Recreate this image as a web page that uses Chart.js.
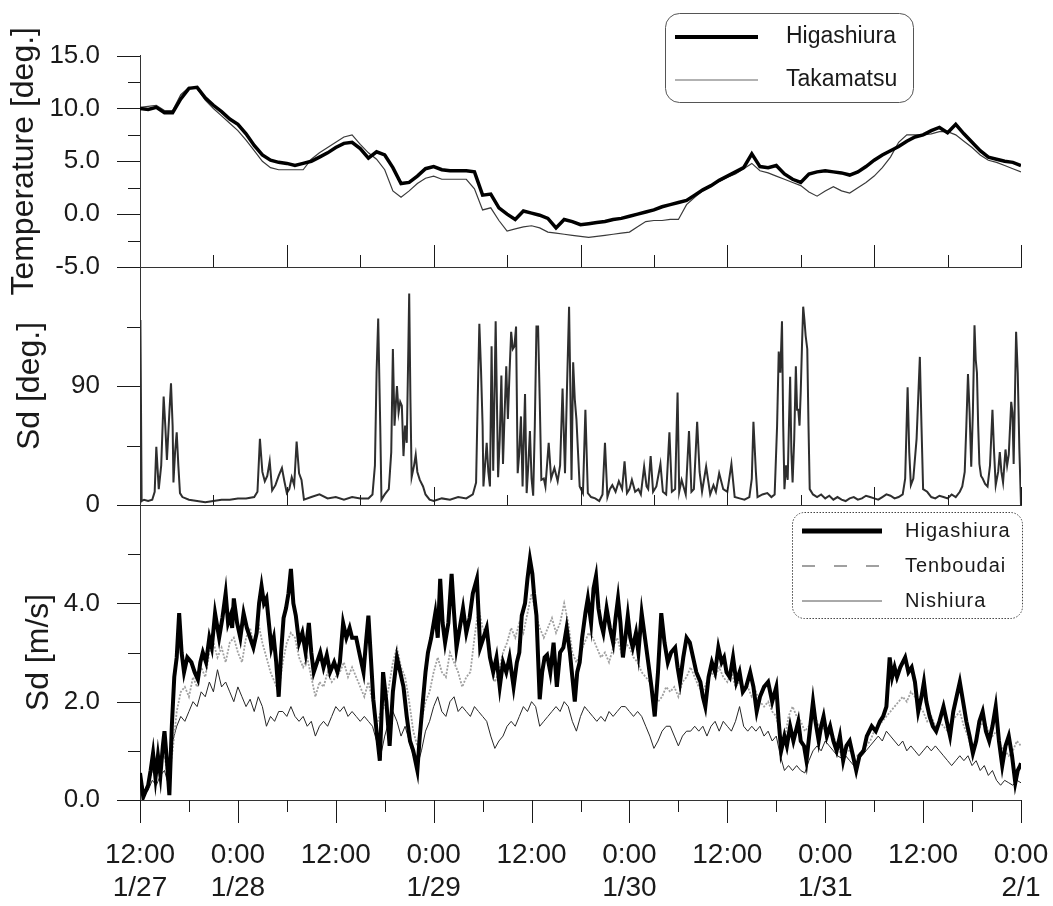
<!DOCTYPE html>
<html>
<head>
<meta charset="utf-8">
<script src="https://cdn.jsdelivr.net/npm/chart.js@4.4.1/dist/chart.umd.min.js"></script>
<style>
  body { margin: 0; background: #fff; }
  #wrap { position: relative; width: 1053px; height: 906px; }
  canvas { position: absolute; left: 0; top: 0; }
</style>
</head>
<body>
<div id="wrap">
  <canvas id="temp" width="1053" height="906"></canvas>
  <canvas id="dir" width="1053" height="906"></canvas>
  <canvas id="wind" width="1053" height="906"></canvas>
</div>
<script>
'use strict';

// hours since 12:00 1/27 (108 h = 0:00 2/1)

let hourGrid = [0,1,2,3,4,5,6,7,8,9,10,11,12,13,14,15,16,17,18,19,20,21,22,23,24,25,26,27,28,29,30,31,32,33,34,35,36,37,38,39,40,41,42,43,44,45,46,47,48,49,50,51,52,53,54,55,56,57,58,59,60,61,62,63,64,65,66,67,68,69,70,71,72,73,74,75,76,77,78,79,80,81,82,83,84,85,86,87,88,89,90,91,92,93,94,95,96,97,98,99,100,101,102,103,104,105,106,107,108];

let halfHourGrid = [0,0.5,1,1.5,2,2.5,3,3.5,4,4.5,5,5.5,6,6.5,7,7.5,8,8.5,9,9.5,10,10.5,11,11.5,12,12.5,13,13.5,14,14.5,15,15.5,16,16.5,17,17.5,18,18.5,19,19.5,20,20.5,21,21.5,22,22.5,23,23.5,24,24.5,25,25.5,26,26.5,27,27.5,28,28.5,29,29.5,30,30.5,31,31.5,32,32.5,33,33.5,34,34.5,35,35.5,36,36.5,37,37.5,38,38.5,39,39.5,40,40.5,41,41.5,42,42.5,43,43.5,44,44.5,45,45.5,46,46.5,47,47.5,48,48.5,49,49.5,50,50.5,51,51.5,52,52.5,53,53.5,54,54.5,55,55.5,56,56.5,57,57.5,58,58.5,59,59.5,60,60.5,61,61.5,62,62.5,63,63.5,64,64.5,65,65.5,66,66.5,67,67.5,68,68.5,69,69.5,70,70.5,71,71.5,72,72.5,73,73.5,74,74.5,75,75.5,76,76.5,77,77.5,78,78.5,79,79.5,80,80.5,81,81.5,82,82.5,83,83.5,84,84.5,85,85.5,86,86.5,87,87.5,88,88.5,89,89.5,90,90.5,91,91.5,92,92.5,93,93.5,94,94.5,95,95.5,96,96.5,97,97.5,98,98.5,99,99.5,100,100.5,101,101.5,102,102.5,103,103.5,104,104.5,105,105.5,106,106.5,107,107.5,108];

// temperature [deg.], hourly
let tempHigashiura = [10.0,9.9,10.1,9.6,9.6,10.9,11.9,12.0,11.0,10.3,9.7,9.0,8.5,7.6,6.5,5.6,5.1,4.9,4.8,4.6,4.8,5.0,5.4,5.8,6.3,6.7,6.8,6.2,5.3,5.9,5.6,4.4,2.9,3.0,3.6,4.3,4.5,4.2,4.1,4.1,4.1,4.0,1.8,1.9,0.6,0.0,-0.5,0.3,0.1,-0.1,-0.4,-1.3,-0.5,-0.7,-1.0,-0.9,-0.8,-0.7,-0.5,-0.4,-0.2,0.0,0.2,0.4,0.7,0.9,1.1,1.3,1.8,2.3,2.7,3.2,3.6,4.0,4.4,5.7,4.5,4.4,4.6,3.8,3.3,3.0,3.8,4.0,4.1,4.0,3.9,3.7,4.0,4.5,5.1,5.6,6.0,6.4,6.9,7.3,7.5,7.9,8.2,7.7,8.5,7.6,6.8,6.0,5.4,5.2,5.0,4.9,4.6];
let tempTakamatsu = [10.1,10.2,10.3,9.8,9.8,11.3,12.0,11.9,10.8,10.0,9.3,8.6,7.9,7.0,6.0,5.0,4.4,4.2,4.2,4.2,4.2,5.2,5.8,6.3,6.8,7.3,7.5,6.6,5.8,5.2,4.2,2.2,1.6,2.2,2.9,3.4,3.6,3.3,3.3,3.3,3.3,2.4,0.4,0.6,-0.6,-1.6,-1.4,-1.2,-1.1,-1.3,-1.7,-1.8,-1.9,-2.0,-2.1,-2.2,-2.1,-2.0,-1.9,-1.8,-1.7,-1.2,-0.7,-0.6,-0.6,-0.5,-0.5,0.9,1.6,2.2,2.7,3.1,3.5,3.8,4.3,4.8,4.1,3.9,3.6,3.3,3.0,2.7,2.1,1.7,2.2,2.6,2.2,2.0,2.5,3.0,3.6,4.4,5.4,6.8,7.5,7.5,7.5,7.6,7.8,7.8,7.5,6.9,6.3,5.6,5.1,4.9,4.6,4.3,4.0];

// Sd of wind direction [deg.], Higashiura
let dirHours = [0,0.05,0.2,0.5,1.0,1.5,1.8,2.0,2.3,2.6,2.9,3.1,3.3,3.6,3.8,4.0,4.1,4.3,4.5,4.7,4.9,5.2,6,7,8,9,10,11,12,13,14,14.4,14.7,15.0,15.3,15.6,15.9,16.2,16.6,17.0,17.4,17.7,18.0,18.3,18.6,18.9,19.2,19.5,19.8,20.1,21,22,23,24,25,26,27,28,28.5,28.8,29.0,29.2,29.45,29.6,30.0,30.5,30.8,31.0,31.2,31.5,31.7,31.9,32.1,32.3,32.5,32.7,32.9,33.0,33.15,33.3,33.6,33.8,34.0,34.3,34.7,35.0,35.5,36,37,38,39,40,40.8,41.2,41.4,41.6,41.8,42.0,42.1,42.3,42.5,42.7,42.9,43.1,43.3,43.5,43.6,43.8,43.9,44.1,44.3,44.5,44.7,44.9,45.1,45.3,45.5,45.7,45.9,46.1,46.3,46.5,46.7,46.9,47.05,47.2,47.4,47.6,47.8,48.0,48.2,48.4,48.6,48.8,49.0,49.2,49.5,49.7,50.1,50.4,50.8,51.2,51.5,51.8,52.1,52.35,52.6,52.75,52.9,53.1,53.3,53.5,53.9,54.3,54.6,54.9,55.3,55.8,56.3,56.7,57.0,57.3,57.6,57.9,58.3,58.7,59.1,59.4,59.7,60.0,60.3,60.7,61.1,61.4,61.8,62.1,62.3,62.6,62.9,63.3,63.8,64.1,64.5,64.9,65.2,65.6,65.9,66.1,66.4,66.9,67.3,67.6,67.9,68.3,68.6,68.9,69.4,69.9,70.3,70.6,71.0,71.5,72.0,72.5,72.9,73.5,74.1,74.7,75.0,75.2,75.5,75.7,76.3,76.9,77.4,77.8,78.1,78.3,78.5,78.7,78.85,79.0,79.2,79.4,79.55,79.7,79.85,80.0,80.2,80.4,80.55,80.7,80.85,81.0,81.15,81.3,81.45,81.6,81.8,81.95,82.1,82.5,83,83.5,84,84.5,85,85.5,86,86.5,87,87.5,88,88.5,89,89.5,90,90.5,91,91.5,92,92.5,93,93.5,93.8,94.1,94.3,94.5,94.8,95.2,95.6,95.8,96.0,96.5,97,97.5,98,98.5,99,99.5,100,100.5,100.8,101.1,101.3,101.5,101.7,101.9,102.1,102.3,102.45,102.6,102.75,102.9,103.1,103.3,103.6,103.9,104.2,104.5,104.7,104.9,105.2,105.4,105.6,105.8,106.1,106.3,106.5,106.8,106.95,107.1,107.25,107.4,107.6,107.8,108];
let dirSd = [2,140,3,4,3,4,10,44,12,30,82,60,34,70,92,60,17,40,55,30,9,6,4,3,2,3,4,4,5,5,6,10,50,25,18,22,33,11,15,22,28,18,9,12,21,15,48,24,19,4,6,8,5,6,4,6,5,5,8,30,100,141,60,4,8,12,40,118,60,90,70,78,75,37,60,47,120,160,80,21,30,38,25,19,14,8,4,3,5,4,6,5,8,17,80,137,103,60,14,30,47,25,14,120,26,100,139,60,21,50,98,31,70,105,65,100,131,118,120,135,24,40,67,14,50,84,9,30,56,20,7,60,135,135,80,19,20,14,47,20,28,18,30,88,24,90,150,90,19,108,80,65,14,9,72,9,6,5,3,8,47,6,12,15,10,18,12,33,9,12,19,10,12,8,29,14,12,37,10,14,31,10,8,55,10,12,85,10,19,8,56,10,12,63,25,10,29,8,15,10,24,12,10,31,6,5,4,6,20,63,25,6,8,9,6,8,60,116,100,139,60,12,30,19,60,97,40,17,50,105,72,72,60,86,120,150,140,128,118,60,12,8,6,8,5,7,4,6,4,3,5,6,4,5,7,6,5,4,6,8,7,5,6,8,20,89,40,15,20,50,112,60,12,10,6,5,7,6,5,8,6,10,14,25,60,99,70,29,70,136,110,100,60,31,22,20,16,14,30,72,40,15,25,40,25,17,42,30,38,78,70,31,80,131,100,42,0];

// wind speed [m/s]
let windHigHours = [0,0.4,1.0,1.3,1.6,1.9,2.2,2.5,2.8,3.0,3.3,3.6,3.9,4.2,4.5,4.8,5.1,5.4,5.8,6.3,6.7,7.1,7.4,7.7,8.1,8.5,8.8,9.2,9.5,9.7,10.1,10.5,10.8,11.1,11.3,11.5,11.9,12.3,12.7,13.1,13.5,13.9,14.3,14.6,14.9,15.2,15.5,15.8,16.1,16.4,16.7,17.0,17.3,17.6,17.9,18.2,18.5,18.8,19.1,19.5,19.9,20.3,20.7,21.0,21.3,21.7,22.1,22.5,22.9,23.3,23.8,24.2,24.5,24.9,25.3,25.7,26.0,26.5,27.0,27.4,27.7,28.0,28.3,28.6,29.0,29.4,29.8,30.2,30.6,31.0,31.5,31.9,32.3,32.7,33.1,33.5,34.0,34.3,34.7,35.0,35.3,35.7,36.2,36.5,36.8,37.1,37.4,37.8,38.2,38.5,38.8,39.2,39.6,40.0,40.4,40.8,41.3,41.7,42.1,42.5,42.9,43.3,43.7,44.1,44.5,44.9,45.3,45.8,46.2,46.5,46.8,47.2,47.5,47.8,48.1,48.3,48.6,49.0,49.3,49.6,49.9,50.3,50.7,51.1,51.5,51.9,52.3,52.7,53.0,53.3,53.6,53.9,54.2,54.6,54.9,55.3,55.6,55.9,56.2,56.5,56.8,57.2,57.6,58.0,58.3,58.6,58.9,59.2,59.5,59.8,60.1,60.4,60.8,61.1,61.5,61.9,62.3,62.7,63.1,63.5,63.9,64.3,64.7,65.1,65.6,65.9,66.2,66.6,67.0,67.4,67.8,68.2,68.7,69.0,69.3,69.7,70.1,70.5,70.9,71.3,71.6,71.9,72.3,72.7,73.1,73.5,73.9,74.3,74.8,75.2,75.6,76.0,76.5,77.0,77.5,78.0,78.3,78.6,79.0,79.3,79.7,80.1,80.4,80.7,81.0,81.4,81.7,82.1,82.5,82.8,83.2,83.5,83.8,84.2,84.6,85.0,85.4,85.8,86.2,86.6,87.0,87.4,87.8,88.2,88.7,89.1,89.7,90.2,90.7,91.1,91.5,91.9,92.2,92.5,92.8,93.2,93.5,93.8,94.2,94.6,95.0,95.4,95.8,96.1,96.4,96.8,97.2,97.6,98.0,98.5,98.9,99.3,99.7,100.1,100.5,100.9,101.3,101.7,102.1,102.5,102.9,103.3,103.7,104.1,104.5,104.9,105.3,105.7,106.1,106.5,106.9,107.3,107.6,107.9,108];
let windHigashiura = [0.55,0.06,0.3,0.6,0.95,0.45,0.9,0.5,1.1,1.4,0.8,0.1,1.5,2.5,2.9,3.8,3.0,2.6,2.9,2.8,2.6,2.45,2.8,3.0,2.8,3.3,3.1,3.8,3.5,3.3,3.7,4.2,3.6,3.75,3.5,4.1,3.6,3.3,3.8,3.5,3.3,3.1,3.4,4.0,4.35,4.0,4.1,3.6,3.1,3.3,2.8,2.1,3.0,3.7,3.9,4.2,4.7,4.0,3.75,3.2,3.4,3.0,3.6,3.0,2.6,2.8,3.0,2.7,2.95,2.6,2.8,2.6,2.8,3.6,3.3,3.5,3.3,3.3,2.9,2.6,3.2,3.75,2.9,2.05,1.4,0.8,2.6,2.0,1.1,2.2,2.9,2.6,2.3,1.7,1.2,1.0,0.6,1.3,2.05,2.6,3.0,3.3,3.8,3.3,4.5,3.6,3.2,3.6,4.6,3.8,3.1,3.5,3.9,3.4,3.7,4.2,4.5,3.1,3.3,3.5,2.9,2.6,2.9,2.3,2.8,2.6,2.9,2.3,2.8,3.0,3.75,4.0,4.5,4.9,4.6,4.2,3.75,2.05,2.6,2.9,2.95,2.6,3.2,2.3,3.0,3.1,3.5,3.0,2.5,2.0,2.6,2.8,3.3,3.8,4.1,3.6,4.3,4.55,3.9,3.6,3.4,3.9,3.5,3.2,3.7,4.1,3.6,2.9,3.3,3.75,3.3,3.1,3.4,3.0,3.8,3.3,2.8,2.3,1.7,2.6,3.8,3.2,2.8,3.0,3.1,2.7,2.4,2.9,3.3,3.2,2.9,2.6,2.4,2.1,1.9,2.5,2.8,2.6,3.1,2.8,2.9,2.6,2.5,2.9,2.4,2.6,2.2,2.3,2.6,2.3,1.8,2.1,2.3,2.4,2.0,2.3,1.6,1.0,1.3,1.1,1.5,1.2,1.4,1.6,1.2,1.1,0.8,1.4,2.0,1.6,1.2,1.5,1.7,1.3,1.5,1.2,1.0,1.3,0.8,1.1,1.2,0.9,0.6,0.9,1.0,1.3,1.5,1.4,1.6,1.7,1.9,2.9,2.5,2.7,2.5,2.7,2.8,2.9,2.6,2.7,2.4,1.8,2.1,2.4,2.0,1.7,1.5,1.4,1.6,1.9,1.6,1.3,1.8,2.1,2.4,2.0,1.6,1.3,0.95,1.2,1.6,1.8,1.4,1.2,1.5,1.9,1.2,0.7,1.1,1.3,0.9,0.35,0.6,0.7,0.75];
let windTenboudai = [0.5,0.2,0.3,0.6,0.5,0.8,0.9,0.4,1.0,1.8,2.2,2.3,2.1,2.5,2.3,2.7,2.5,3.0,3.2,2.9,3.1,2.8,3.2,3.3,3.0,2.8,3.3,3.5,3.1,3.6,3.2,2.9,2.6,2.4,2.2,2.8,3.2,3.4,3.3,2.9,2.7,2.9,2.5,2.1,2.4,2.3,2.6,2.4,2.5,2.6,2.8,2.5,2.7,2.5,2.3,2.1,2.4,2.0,1.5,1.8,1.9,2.3,2.8,3.1,2.7,2.5,2.0,1.4,1.1,1.6,2.0,2.2,2.6,2.9,2.6,2.5,3.0,2.8,2.6,2.3,2.5,2.6,3.3,3.9,3.5,3.4,2.8,2.4,2.6,3.0,3.2,3.5,3.3,3.6,3.4,3.8,4.2,3.8,3.5,3.3,3.5,3.7,3.4,3.6,4.0,3.6,3.0,2.8,3.0,3.2,3.4,3.3,3.1,2.9,3.0,2.8,3.1,3.3,3.0,3.2,3.1,2.9,2.8,2.6,2.5,2.4,2.1,2.0,2.1,2.3,2.2,2.3,2.1,2.4,2.5,2.7,2.5,2.3,2.2,2.4,2.6,2.5,2.7,2.5,2.4,2.6,2.3,2.4,2.2,2.3,2.1,2.2,2.0,1.9,2.0,1.8,1.7,1.3,1.2,1.7,1.9,1.7,1.6,1.4,1.5,1.7,1.6,1.4,1.5,1.5,1.3,1.1,0.9,1.0,1.0,0.9,0.9,1.0,1.1,1.2,1.4,1.5,1.6,1.7,1.8,1.9,2.0,2.1,2.0,2.2,2.1,1.9,1.8,1.6,1.7,1.5,1.6,1.5,1.4,1.6,1.7,1.8,1.5,1.3,1.0,1.2,1.5,1.6,1.4,1.3,1.4,1.1,1.0,0.9,1.0,1.2,1.1];
let windNishiura = [0.3,0.1,0.2,0.4,0.3,0.5,0.6,0.3,1.2,1.5,1.7,1.6,1.8,2.0,1.9,2.2,2.1,2.4,2.2,2.65,2.3,2.4,2.2,2.0,2.3,2.1,1.9,2.05,1.8,2.1,1.9,1.5,1.7,1.6,1.8,1.8,1.7,1.9,1.7,1.6,1.7,1.5,1.6,1.3,1.5,1.6,1.5,1.7,1.9,1.8,1.9,1.7,1.8,1.7,1.6,1.7,1.6,1.5,1.2,0.9,1.3,1.6,1.8,1.6,1.3,1.5,1.2,0.9,0.7,1.0,1.4,1.6,1.9,2.1,1.8,1.7,2.0,2.1,1.8,1.9,1.8,1.7,1.9,1.8,1.7,1.6,1.3,1.05,1.2,1.3,1.5,1.6,1.5,1.7,1.9,1.8,2.0,1.9,1.5,1.6,1.7,1.8,1.9,1.8,2.0,1.9,1.6,1.4,1.7,1.9,1.8,1.7,1.6,1.7,1.6,1.8,1.7,1.8,1.9,1.9,1.8,1.7,1.8,1.7,1.5,1.3,1.05,1.2,1.4,1.5,1.5,1.3,1.1,1.3,1.4,1.4,1.5,1.4,1.5,1.3,1.5,1.6,1.4,1.6,1.5,1.4,1.6,1.9,1.5,1.4,1.5,1.4,1.5,1.3,1.4,1.2,1.3,0.9,0.6,0.7,0.6,0.7,0.6,0.55,0.8,1.0,1.1,1.0,1.2,1.1,1.0,0.9,0.85,0.9,0.8,0.7,0.8,0.9,1.0,1.1,1.2,1.3,1.2,1.4,1.3,1.2,1.1,1.2,1.0,1.1,1.0,0.9,1.0,1.1,1.0,1.1,1.0,0.9,0.8,0.7,0.8,0.9,0.8,0.9,0.7,0.8,0.6,0.7,0.5,0.6,0.4,0.3,0.4,0.35,0.3,0.4,0.35];

// ticks
let tempTicks = [-5, 0, 5, 10, 15];
let tempTickLabels = ['-5.0', '0.0', '5.0', '10.0', '15.0'];
let tempMinor = [-2.5, 2.5, 7.5, 12.5];
let dirTicks = [0, 90];
let dirTickLabels = ['0', '90'];
let dirMinor = [45, 135];
let windTicks = [0, 2, 4];
let windTickLabels = ['0.0', '2.0', '4.0'];
let windMinor = [1, 3, 5];
let upperLongX = [18, 36, 54, 72, 90, 108];
let upperShortX = [9, 27, 45, 63, 81, 99];
let timeTicks = [0, 12, 24, 36, 48, 60, 72, 84, 96, 108];
let timeLabels = ['12:00', '0:00', '12:00', '0:00', '12:00', '0:00', '12:00', '0:00', '12:00', '0:00'];
let dateLabels = ['1/27', '1/28', '', '1/29', '', '1/30', '', '1/31', '', '2/1'];
let sixHourX = [6, 18, 30, 42, 54, 66, 78, 90, 102];

function pairs(xs, ys) {
  return ys.map((v, i) => ({x: xs[i], y: v}));
}

const SANS = '"Liberation Sans", Arial, sans-serif';
const INK = '#1a1a1a';

// short and long tick marks drawn from the chart's own scales
const tickMarks = {
  id: 'tickMarks',
  afterDraw(chart, args, opts) {
    let ctx = chart.ctx;
    let area = chart.chartArea;
    let xs = chart.scales.x;
    let ys = chart.scales.y;
    ctx.save();
    ctx.strokeStyle = INK;
    ctx.lineWidth = 1;
    ctx.beginPath();
    (opts.y || []).forEach(([vals, len]) => {
      vals.forEach(v => {
        let py = Math.round(ys.getPixelForValue(v)) + 0.5;
        ctx.moveTo(area.left - len, py);
        ctx.lineTo(area.left, py);
      });
    });
    (opts.x || []).forEach(([vals, len]) => {
      vals.forEach(v => {
        let px = Math.round(xs.getPixelForValue(v)) + 0.5;
        ctx.moveTo(px, area.bottom);
        ctx.lineTo(px, area.bottom + len);
      });
    });
    ctx.stroke();
    ctx.restore();
  }
};

// rounded legend box inside the plot
const boxLegend = {
  id: 'boxLegend',
  afterDraw(chart, args, o) {
    let ctx = chart.ctx;
    ctx.save();
    ctx.beginPath();
    ctx.roundRect(o.x + 0.5, o.y + 0.5, o.w, o.h, o.r);
    ctx.setLineDash(o.boxDash || []);
    ctx.strokeStyle = o.boxColor;
    ctx.lineWidth = 1;
    ctx.stroke();
    chart.data.datasets.forEach((ds, i) => {
      let y = o.y + o.row0 + i * o.rowGap;
      ctx.setLineDash(ds.legendDash || []);
      ctx.strokeStyle = ds.legendColor || ds.borderColor;
      ctx.lineWidth = ds.legendWidth || ds.borderWidth;
      ctx.beginPath();
      ctx.moveTo(o.x + o.line0, y);
      ctx.lineTo(o.x + o.line1, y);
      ctx.stroke();
      ctx.setLineDash([]);
      ctx.fillStyle = INK;
      ctx.font = o.font;
      ctx.letterSpacing = o.spacing || '0px';
      ctx.textBaseline = 'middle';
      ctx.fillText(ds.label, o.x + o.textX, y);
    });
    ctx.restore();
  }
};

function yAxis(min, max, ticks, labels, title, titlePad) {
  return {
    min: min,
    max: max,
    afterFit(s) { s.width = 140; },
    afterBuildTicks(s) { s.ticks = ticks.map(v => ({value: v})); },
    ticks: {
      autoSkip: false,
      padding: 40,
      color: INK,
      font: {family: SANS, size: 26},
      callback: v => labels[ticks.indexOf(v)]
    },
    grid: {display: false, drawTicks: false},
    border: {display: true, color: '#333', width: 1, dash: [2, 1]},
    title: {
      display: true,
      text: title,
      color: INK,
      padding: {top: titlePad, bottom: 0},
      font: {family: SANS, size: 32}
    }
  };
}

function hiddenX() {
  return {
    type: 'linear',
    min: 0,
    max: 108,
    afterFit(s) { s.height = 0; },
    ticks: {display: false},
    grid: {display: false, drawTicks: false},
    border: {display: true, color: '#333', width: 1, dash: [2, 1]}
  };
}

const common = {
  responsive: false,
  animation: false,
  devicePixelRatio: 1,
  elements: {point: {radius: 0}, line: {tension: 0}}
};

// top panel: temperature
new Chart(document.getElementById('temp'), {
  type: 'line',
  data: {
    datasets: [
      {label: 'Higashiura', data: pairs(hourGrid, tempHigashiura), borderColor: '#000', borderWidth: 3.5, legendWidth: 4},
      {label: 'Takamatsu', data: pairs(hourGrid, tempTakamatsu), borderColor: '#3a3a3a', borderWidth: 1.2, legendColor: '#666'}
    ]
  },
  options: Object.assign({}, common, {
    layout: {padding: {top: 31, bottom: 639, left: 0, right: 32}},
    scales: {
      x: hiddenX(),
      y: yAxis(-5, 15, tempTicks, tempTickLabels, 'Temperature [deg.]', 5)
    },
    plugins: {
      legend: {display: false},
      tooltip: {enabled: false},
      tickMarks: {y: [[tempTicks, 23], [tempMinor, 12]], x: [[upperLongX, -22], [upperShortX, -12]]},
      boxLegend: {x: 665, y: 13, w: 248, h: 89, r: 14, boxColor: '#555', row0: 24, rowGap: 43,
                  line0: 10, line1: 93, textX: 121, font: '23px ' + SANS}
    }
  }),
  plugins: [tickMarks, boxLegend]
});

// middle panel: Sd of wind direction
new Chart(document.getElementById('dir'), {
  type: 'line',
  data: {
    datasets: [
      {label: 'Sd', data: pairs(dirHours, dirSd), borderColor: '#2e2e2e', borderWidth: 2}
    ]
  },
  options: Object.assign({}, common, {
    layout: {padding: {top: 267, bottom: 401, left: 0, right: 32}},
    scales: {
      x: hiddenX(),
      y: yAxis(0, 180, dirTicks, dirTickLabels, 'Sd [deg.]', 11)
    },
    plugins: {
      legend: {display: false},
      tooltip: {enabled: false},
      tickMarks: {y: [[dirTicks, 23], [dirMinor, 13]], x: [[upperLongX, -18], [upperShortX, -10]]}
    }
  }),
  plugins: [tickMarks]
});

// bottom panel: wind speed
new Chart(document.getElementById('wind'), {
  type: 'line',
  data: {
    datasets: [
      {label: 'Higashiura', data: pairs(windHigHours, windHigashiura), borderColor: '#000', borderWidth: 4, legendWidth: 5},
      {label: 'Tenboudai', data: pairs(halfHourGrid, windTenboudai), borderColor: '#a0a0a0', borderWidth: 1.8,
       borderDash: [2, 1.5], legendDash: [13, 19], legendWidth: 2},
      {label: 'Nishiura', data: pairs(halfHourGrid, windNishiura), borderColor: '#262626', borderWidth: 1, legendColor: '#555'}
    ]
  },
  options: Object.assign({}, common, {
    layout: {padding: {top: 505, bottom: 0, left: 0, right: 32}},
    scales: {
      x: {
        type: 'linear',
        min: 0,
        max: 108,
        afterFit(s) {
          s.height = 106;
          s.paddingLeft = 0;
          s.paddingRight = 0;
        },
        afterBuildTicks(s) { s.ticks = timeTicks.map(v => ({value: v})); },
        ticks: {
          autoSkip: false,
          maxRotation: 0,
          padding: 38,
          color: INK,
          font: {family: SANS, size: 28, lineHeight: 1.2},
          callback: v => {
            let i = timeTicks.indexOf(v);
            return [timeLabels[i], dateLabels[i]];
          }
        },
        grid: {display: false, drawTicks: false},
        border: {display: true, color: '#333', width: 1, dash: [2, 1]}
      },
      y: yAxis(0, 6, windTicks, windTickLabels, 'Sd [m/s]', 20)
    },
    plugins: {
      legend: {display: false},
      tooltip: {enabled: false},
      tickMarks: {y: [[windTicks, 23], [windMinor, 12]], x: [[timeTicks, 23], [sixHourX, 12]]},
      boxLegend: {x: 792, y: 512, w: 230, h: 106, r: 12, boxColor: '#444', boxDash: [1.5, 1.5], row0: 19, rowGap: 35,
                  line0: 10, line1: 90, textX: 113, font: '20px ' + SANS, spacing: '1px'}
    }
  }),
  plugins: [tickMarks, boxLegend]
});
</script>
</body>
</html>
